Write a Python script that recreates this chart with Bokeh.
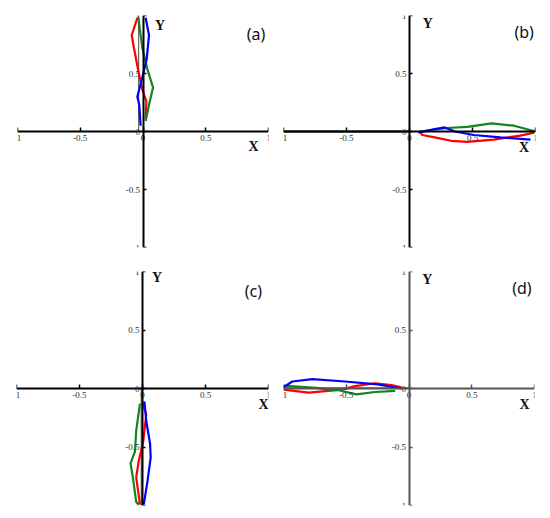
from bokeh.plotting import figure
from bokeh.models import Range1d, FixedTicker, Label
from bokeh.layouts import row, column
from bokeh.embed import file_html
from bokeh.resources import INLINE

# ---------------- data ----------------
ticks = [-1, -0.5, 0, 0.5, 1]
tick_labels = ["-1", "-0.5", "0", "0.5", "1"]
panel_names = ["(a)", "(b)", "(c)", "(d)"]

# panel (a)
a_red_x = [-0.045, -0.09, -0.072, -0.037, -0.005, 0.027, 0.021]
a_red_y = [0.98, 0.83, 0.72, 0.52, 0.36, 0.26, 0.11]
a_green_x = [-0.037, -0.005, 0.034, 0.08, 0.048, 0.021]
a_green_y = [0.98, 0.72, 0.54, 0.38, 0.23, 0.09]
a_blue_x = [0.021, 0.048, 0.029, -0.005, -0.045, -0.03, -0.019]
a_blue_y = [0.98, 0.83, 0.62, 0.47, 0.30, 0.23, 0.05]
a_ref_x = [-0.035, -0.035]
a_ref_y = [0.0, 1.0]

# panel (b)
b_red_x = [0.09, 0.10, 0.20, 0.33, 0.46, 0.67, 0.88, 0.99]
b_red_y = [-0.01, -0.03, -0.05, -0.08, -0.09, -0.07, -0.035, -0.01]
b_green_x = [0.08, 0.30, 0.46, 0.65, 0.83, 1.0]
b_green_y = [0.0, 0.03, 0.04, 0.07, 0.05, 0.0]
b_blue_x = [0.07, 0.20, 0.28, 0.36, 0.51, 0.72, 0.96]
b_blue_y = [-0.01, 0.02, 0.035, 0.0, -0.03, -0.05, -0.07]
b_ref_x = [-1.0, 0.0]
b_ref_y = [0.0, 0.0]

# panel (c)
c_red_x = [0.0, 0.03, 0.006, -0.03, -0.05, -0.02]
c_red_y = [-0.12, -0.22, -0.45, -0.62, -0.76, -0.99]
c_green_x = [-0.02, -0.05, -0.06, -0.095, -0.075, -0.05, -0.02]
c_green_y = [-0.13, -0.36, -0.54, -0.64, -0.77, -0.97, -0.99]
c_blue_x = [0.015, 0.03, 0.06, 0.065, 0.04, 0.01]
c_blue_y = [-0.11, -0.28, -0.47, -0.59, -0.79, -0.99]
c_ref_x = [-0.01, -0.01]
c_ref_y = [0.0, -1.0]

# panel (d)
d_red_x = [-1.0, -0.8, -0.53, -0.43, -0.27, -0.14, -0.06]
d_red_y = [-0.01, -0.035, -0.01, 0.02, 0.045, 0.03, 0.01]
d_green_x = [-1.0, -0.74, -0.64, -0.56, -0.42, -0.27, -0.11]
d_green_y = [0.025, 0.005, -0.01, -0.015, -0.05, -0.03, -0.02]
d_blue_x = [-1.0, -0.93, -0.77, -0.51, -0.25, -0.06]
d_blue_y = [0.01, 0.06, 0.08, 0.06, 0.035, 0.0]
d_ref_x = [-1.0, 0.0]
d_ref_y = [0.005, 0.005]

RED = "#ff0000"
GREEN = "#14841c"
BLUE = "#0000ff"


def make_panel(name, width, height, borders, axis_color, ref_color, ref_width,
               series, ref, xlab_pos, ylab_pos, name_pos):
    left, right, top, bottom = borders
    p = figure(width=width, height=height, output_backend="svg", toolbar_location=None,
               x_range=Range1d(-1, 1), y_range=Range1d(-1, 1),
               min_border_left=left, min_border_right=right,
               min_border_top=top, min_border_bottom=bottom)
    p.outline_line_color = None
    p.xgrid.visible = False
    p.ygrid.visible = False
    p.background_fill_color = "white"

    # reference stick
    p.line(ref[0], ref[1], line_color=ref_color, line_width=ref_width)

    for xs, ys, col in series:
        p.line(xs, ys, line_color=col, line_width=2.2)

    overrides = {t: l for t, l in zip(ticks, tick_labels)}
    for ax in (p.xaxis[0], p.yaxis[0]):
        ax.fixed_location = 0
        ax.ticker = FixedTicker(ticks=ticks)
        ax.major_label_overrides = overrides
        ax.axis_line_color = axis_color
        ax.axis_line_width = 2
        ax.major_tick_line_color = axis_color
        ax.major_tick_line_width = 1.5
        ax.major_tick_in = 4
        ax.major_tick_out = 0
        ax.minor_tick_line_color = None
        ax.major_label_text_font = "Liberation Serif"
        ax.major_label_text_font_size = "9px"
        ax.major_label_text_color = "#333333"
        ax.major_label_standoff = 3
    p.yaxis[0].major_tick_in = 3

    p.add_layout(Label(x=xlab_pos[0], y=xlab_pos[1], text="X", text_font="Liberation Serif",
                       text_font_style="bold", text_font_size="14px",
                       text_align="center", text_baseline="middle", text_color="#111111"))
    p.add_layout(Label(x=ylab_pos[0], y=ylab_pos[1], text="Y", text_font="Liberation Serif",
                       text_font_style="bold", text_font_size="14px",
                       text_align="center", text_baseline="middle", text_color="#111111"))
    p.add_layout(Label(x=name_pos[0], y=name_pos[1], text=name, text_font="Noto Sans",
                       text_font_size="16px", text_align="center", text_baseline="middle",
                       text_color="#111111"))
    return p


pa = make_panel(panel_names[0], 275, 259, (17, 7, 15, 11), "#000000", "#666666", 1.2,
                [(a_red_x, a_red_y, RED), (a_green_x, a_green_y, GREEN), (a_blue_x, a_blue_y, BLUE)],
                (a_ref_x, a_ref_y), (0.88, -0.13), (0.135, 0.91), (0.9, 0.84))
pb = make_panel(panel_names[1], 275, 259, (8, 15, 13, 12), "#000000", "#000000", 2,
                [(b_red_x, b_red_y, RED), (b_green_x, b_green_y, GREEN), (b_blue_x, b_blue_y, BLUE)],
                (b_ref_x, b_ref_y), (0.91, -0.14), (0.145, 0.93), (0.91, 0.86))
pc = make_panel(panel_names[2], 275, 259, (16, 7, 12, 13), "#000000", "#666666", 1.2,
                [(c_red_x, c_red_y, RED), (c_green_x, c_green_y, GREEN), (c_blue_x, c_blue_y, BLUE)],
                (c_ref_x, c_ref_y), (0.96, -0.14), (0.115, 0.95), (0.88, 0.83))
pd_ = make_panel(panel_names[3], 275, 259, (8, 16, 12, 12), "#555555", "#777777", 1.2,
                 [(d_red_x, d_red_y, RED), (d_green_x, d_green_y, GREEN), (d_blue_x, d_blue_y, BLUE)],
                 (d_ref_x, d_ref_y), (0.92, -0.14), (0.145, 0.93), (0.9, 0.86))

layout = column(row(pa, pb, spacing=0), row(pc, pd_, spacing=0), spacing=0)

with open("out.html", "w") as f:
    f.write(file_html(layout, INLINE))
